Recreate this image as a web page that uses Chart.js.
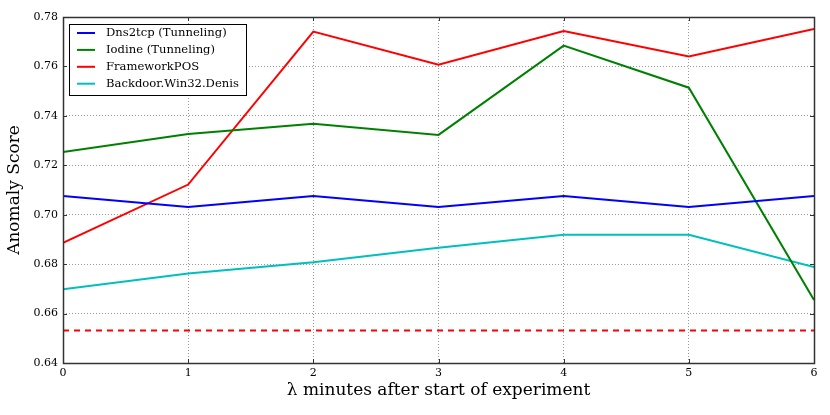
<!DOCTYPE html>
<html>
<head>
<meta charset="utf-8">
<script src="https://cdn.jsdelivr.net/npm/chart.js@4.4.0/dist/chart.umd.min.js"></script>
<style>
  html, body { margin: 0; padding: 0; background: #fff; }
  #wrap { width: 830px; height: 415px; position: relative; }
</style>
</head>
<body>
<div id="wrap"><canvas id="anomalyChart"></canvas></div>
<script>
const minutes = [0, 1, 2, 3, 4, 5, 6];
const dns2tcp = [0.7076, 0.7031, 0.7076, 0.7031, 0.7076, 0.7031, 0.7076];
const iodine = [0.7254, 0.7327, 0.7368, 0.7323, 0.7684, 0.7514, 0.6655];
const frameworkPos = [0.6886, 0.7122, 0.7741, 0.7607, 0.7743, 0.7640, 0.7752];
const backdoor = [0.6698, 0.6762, 0.6808, 0.6866, 0.6919, 0.6919, 0.6788];
const threshold = 0.6531;

const seriesNames = ["Dns2tcp (Tunneling)", "Iodine (Tunneling)", "FrameworkPOS", "Backdoor.Win32.Denis"];
const seriesColors = ["#0000ff", "#008000", "#ff0000", "#00bfbf"];
const seriesValues = [dns2tcp, iodine, frameworkPos, backdoor];

const SERIF = "'DejaVu Serif', 'Liberation Serif', serif";

function toPoints(vals) {
    return minutes.map((m, i) => ({ x: m, y: vals[i] }));
}

const datasets = seriesValues.map((vals, i) => ({
    label: seriesNames[i],
    data: toPoints(vals),
    borderColor: seriesColors[i],
    backgroundColor: seriesColors[i],
    borderWidth: 2,
    pointRadius: 0,
    tension: 0,
    fill: false
}));

// threshold line, not in the legend
datasets.push({
    label: "threshold",
    data: toPoints(minutes.map(() => threshold)),
    borderColor: "#ff0000",
    borderWidth: 2,
    borderDash: [6, 5],
    pointRadius: 0,
    fill: false
});

// frame, inward ticks and the legend box in the upper left
const framePlugin = {
    id: "frame",
    afterDraw(c) {
        const ctx = c.ctx;
        const a = c.chartArea;
        const xs = c.scales.x, ys = c.scales.y;
        ctx.save();
        ctx.strokeStyle = "#333";
        ctx.lineWidth = 1;
        ctx.setLineDash([]);
        ctx.beginPath();
        xs.ticks.forEach(t => {
            const px = Math.round(xs.getPixelForValue(t.value)) + 0.5;
            ctx.moveTo(px, a.bottom); ctx.lineTo(px, a.bottom - 4);
            ctx.moveTo(px, a.top); ctx.lineTo(px, a.top + 4);
        });
        ys.ticks.forEach(t => {
            const py = Math.round(ys.getPixelForValue(t.value)) + 0.5;
            ctx.moveTo(a.left, py); ctx.lineTo(a.left + 4, py);
            ctx.moveTo(a.right, py); ctx.lineTo(a.right - 4, py);
        });
        ctx.stroke();
        ctx.lineWidth = 1.5;
        ctx.strokeRect(Math.round(a.left) + 0.5, Math.round(a.top) + 0.5,
            Math.round(a.right - a.left), Math.round(a.bottom - a.top));

        // legend
        const lx = a.left + 6, ly = a.top + 7, lw = 177, lh = 71;
        ctx.fillStyle = "#fff";
        ctx.fillRect(lx, ly, lw, lh);
        ctx.lineWidth = 1;
        ctx.strokeStyle = "#000";
        ctx.strokeRect(lx + 0.5, ly + 0.5, lw, lh);
        ctx.font = "11.6px " + SERIF;
        ctx.textBaseline = "middle";
        ctx.fillStyle = "#000";
        seriesNames.forEach((name, i) => {
            const yy = ly + 9 + i * 16.9;
            ctx.strokeStyle = seriesColors[i];
            ctx.lineWidth = 2;
            ctx.beginPath();
            ctx.moveTo(lx + 8, yy); ctx.lineTo(lx + 26, yy);
            ctx.stroke();
            ctx.fillText(name, lx + 37, yy);
        });
        ctx.restore();
    }
};

new Chart(document.getElementById("anomalyChart"), {
    type: "line",
    data: { datasets },
    options: {
        responsive: true,
        maintainAspectRatio: false,
        animation: false,
        layout: { padding: { top: 17, right: 16, left: 0, bottom: 0 } },
        plugins: { legend: { display: false }, tooltip: { enabled: false } },
        scales: {
            x: {
                type: "linear",
                min: 0,
                max: 6,
                afterFit: s => { s.height = 52; },
                ticks: { stepSize: 1, color: "#000", padding: 4, font: { family: SERIF, size: 11 } },
                grid: { color: "#999", drawTicks: false, lineWidth: 1 },
                border: { display: false, dash: [1, 2] },
                title: { display: true, text: "λ minutes after start of experiment", color: "#000",
                         font: { family: SERIF, size: 17 }, padding: { top: 0, bottom: 14 } }
            },
            y: {
                min: 0.64,
                max: 0.78,
                afterFit: s => { s.width = 63; },
                ticks: { stepSize: 0.02, color: "#000", padding: 5, font: { family: SERIF, size: 11 },
                         callback: v => v.toFixed(2) },
                grid: { color: "#999", drawTicks: false, lineWidth: 1 },
                border: { display: false, dash: [1, 2] },
                title: { display: true, text: "Anomaly Score", color: "#000",
                         font: { family: SERIF, size: 17 }, padding: { bottom: 4 } }
            }
        }
    },
    plugins: [framePlugin]
});
</script>
</body>
</html>
